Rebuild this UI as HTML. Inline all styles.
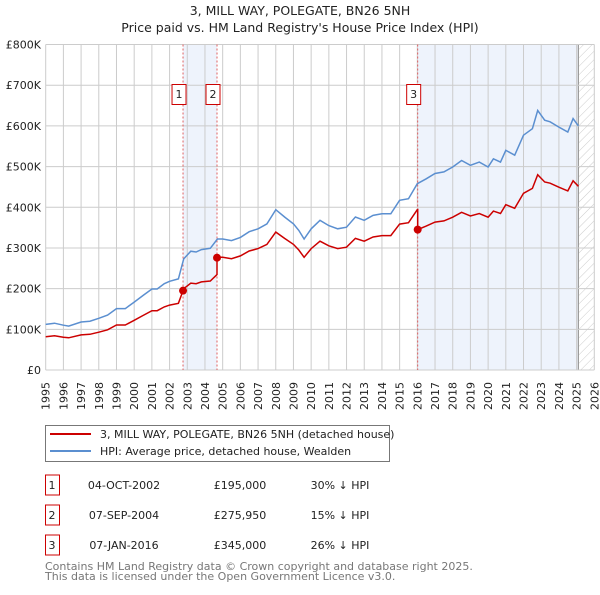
<!DOCTYPE html>
<html><head><meta charset="utf-8"><style>
body{margin:0;background:#fff;font-family:"Liberation Sans","DejaVu Sans",sans-serif;}
svg text{font-family:"DejaVu Sans","Liberation Sans",sans-serif;}
</style></head><body>
<svg id="chart" width="600" height="590" viewBox="0 0 600 590" xmlns="http://www.w3.org/2000/svg">
<defs><pattern id="hatch" width="6" height="6" patternUnits="userSpaceOnUse" patternTransform="rotate(45)"><line x1="0" y1="0" x2="0" y2="6" stroke="#ccc" stroke-width="1"/></pattern></defs>
<text x="300" y="15" text-anchor="middle" font-size="12.5" fill="#222">3, MILL WAY, POLEGATE, BN26 5NH</text>
<text x="300" y="32" text-anchor="middle" font-size="12.5" fill="#222">Price paid vs. HM Land Registry's House Price Index (HPI)</text>
<g id="plot"></g>
<g>
<rect x="45.5" y="425.5" width="344" height="36" fill="#fff" stroke="#777"/>
<line x1="50" y1="434" x2="91" y2="434" stroke="#cc0000" stroke-width="2"/>
<text x="100" y="438" font-size="11" fill="#222">3, MILL WAY, POLEGATE, BN26 5NH (detached house)</text>
<line x1="50" y1="451" x2="91" y2="451" stroke="#5b8fd0" stroke-width="2"/>
<text x="100" y="455" font-size="11" fill="#222">HPI: Average price, detached house, Wealden</text>
</g>
<g id="table" font-size="11" fill="#222"></g>
<text x="45" y="570" font-size="11" fill="#777">Contains HM Land Registry data © Crown copyright and database right 2025.</text>
<text x="45" y="580" font-size="11" fill="#777">This data is licensed under the Open Government Licence v3.0.</text>
</svg>
<script>
const hpiDates=[1995.0,1995.5,1996.0,1996.3,1997.0,1997.5,1998.0,1998.5,1999.0,1999.5,2000.0,2000.5,2001.0,2001.3,2001.7,2002.0,2002.5,2002.8,2003.2,2003.5,2003.8,2004.3,2004.7,2005.0,2005.5,2006.0,2006.5,2007.0,2007.5,2008.0,2008.5,2009.0,2009.3,2009.6,2010.0,2010.5,2011.0,2011.5,2012.0,2012.5,2013.0,2013.5,2014.0,2014.5,2015.0,2015.5,2016.0,2016.5,2017.0,2017.5,2018.0,2018.5,2019.0,2019.5,2020.0,2020.3,2020.7,2021.0,2021.5,2022.0,2022.5,2022.8,2023.2,2023.5,2024.0,2024.5,2024.8,2025.1];
const hpiValues=[112,115,110,108,118,120,127,135,151,151,167,183,199,199,212,218,224,273,292,290,296,299,322,322,318,326,340,347,359,394,376,359,343,322,347,368,355,347,351,376,368,380,384,384,417,421,458,470,483,487,499,515,503,511,499,519,511,540,528,577,593,638,614,610,597,585,618,600];
const saleDates=[2002.76,2004.68,2016.02];
const salePrices=[195,275.95,345];
const saleLabels=["1","2","3"];
const saleDateText=["04-OCT-2002","07-SEP-2004","07-JAN-2016"];
const salePriceText=["£195,000","£275,950","£345,000"];
const salePctText=["30% ↓ HPI","15% ↓ HPI","26% ↓ HPI"];
const yTicks=[0,100,200,300,400,500,600,700,800];
const yTickLabels=["£0","£100K","£200K","£300K","£400K","£500K","£600K","£700K","£800K"];
const xYears=[1995,1996,1997,1998,1999,2000,2001,2002,2003,2004,2005,2006,2007,2008,2009,2010,2011,2012,2013,2014,2015,2016,2017,2018,2019,2020,2021,2022,2023,2024,2025,2026];

const X0=45.7,X1=594.3,Y0=370,Y1=44.5;
const xs=y=>X0+(y-1995)/(2026-1995)*(X1-X0);
const ys=v=>Y0-v/800*(Y0-Y1);
const NS="http://www.w3.org/2000/svg";
const plot=document.getElementById('plot');
function mk(t,a,p){const e=document.createElementNS(NS,t);for(const k in a)e.setAttribute(k,a[k]);(p||plot).appendChild(e);return e;}
function interp(d){if(d<=hpiDates[0])return hpiValues[0];for(let i=1;i<hpiDates.length;i++){if(d<=hpiDates[i]){const t=(d-hpiDates[i-1])/(hpiDates[i]-hpiDates[i-1]);return hpiValues[i-1]+t*(hpiValues[i]-hpiValues[i-1]);}}return hpiValues[hpiValues.length-1];}

let bg=mk('rect',{x:X0,y:Y1,width:X1-X0,height:Y0-Y1,fill:'#fff'});


let b1=mk('rect',{x:xs(saleDates[0]),y:Y1,width:xs(saleDates[1])-xs(saleDates[0]),height:Y0-Y1,fill:'#eef3fc'});


let b2=mk('rect',{x:xs(saleDates[2]),y:Y1,width:xs(2025.1)-xs(saleDates[2]),height:Y0-Y1,fill:'#eef3fc'});


let hz=mk('rect',{x:xs(2025.1),y:Y1,width:X1-xs(2025.1),height:Y0-Y1,fill:'url(#hatch)'});


mk('line',{x1:xs(2025.1),y1:Y1,x2:xs(2025.1),y2:Y0,stroke:'#999','stroke-width':1.2});

xYears.forEach(yr=>{
 const x=xs(yr);
 let g=mk('line',{x1:x,y1:Y1,x2:x,y2:Y0,stroke:'#ccc','stroke-width':1});
 
 
 const tx=x+4,ty=Y0+12;
 let t=mk('text',{x:tx,y:ty,'font-size':11,fill:'#222','text-anchor':'end',transform:'rotate(-90 '+tx.toFixed(1)+' '+ty+')'});
 
 
 t.textContent=yr;
});
yTicks.forEach((v,i)=>{
 const y=ys(v);
 let g=mk('line',{x1:X0,y1:y,x2:X1,y2:y,stroke:'#ccc','stroke-width':1});
 
 
 let t=mk('text',{x:41,y:y+4,'font-size':11,fill:'#222','text-anchor':'end'});
 
 
 t.textContent=yTickLabels[i];
});

saleDates.forEach((d,i)=>{
 const x=xs(d);
 let l=mk('line',{x1:x,y1:Y1,x2:x,y2:Y0,stroke:'#e06060','stroke-width':1,'stroke-dasharray':'2,2'});
 
 
 let r=mk('rect',{x:x-11,y:84.5,width:14,height:20,fill:'#fff',stroke:'#cc0000'});
 
 
 let t=mk('text',{x:x-4,y:98,'font-size':11,fill:'#222','text-anchor':'middle'});
 
 
 t.textContent=saleLabels[i];
});

let dh=hpiDates.map((d,i)=>(i?'L':'M')+xs(d).toFixed(1)+','+ys(hpiValues[i]).toFixed(1)).join('');
let hl=mk('path',{d:dh,fill:'none',stroke:'#5b8fd0','stroke-width':1.5});



const ratios=saleDates.map((d,i)=>salePrices[i]/interp(d));
let pts=[];
hpiDates.forEach((d,i)=>{
 saleDates.forEach((sd,k)=>{ if(i>0 && hpiDates[i-1]<sd && d>=sd){ pts.push([sd,k>0?interp(sd)*ratios[k-1]:salePrices[k]]); pts.push([sd,salePrices[k]]);} });
 let k=0; for(let j=0;j<saleDates.length;j++) if(d>=saleDates[j]) k=j;
 pts.push([d,hpiValues[i]*ratios[k]]);
});
let dp=pts.map((p,i)=>(i?'L':'M')+xs(p[0]).toFixed(1)+','+ys(p[1]).toFixed(1)).join('');
let pl=mk('path',{d:dp,fill:'none',stroke:'#cc0000','stroke-width':1.5});


saleDates.forEach((d,i)=>{
 let c=mk('circle',{cx:xs(d),cy:ys(salePrices[i]),r:4,fill:'#cc0000'});
 
 
});

const tb=document.getElementById('table');
saleDates.forEach((d,i)=>{
 const y=485+i*30;
 let r=mk('rect',{x:45.5,y:y-10,width:14,height:20,fill:'#fff',stroke:'#cc0000'},tb);
 
 
 const cells=[[52,saleLabels[i],'table-row-number'],[124,saleDateText[i],'table-row-date'],[240,salePriceText[i],'table-row-price'],[340,salePctText[i],'table-row-hpi-diff']];
 cells.forEach(c=>{
  let t=mk('text',{x:c[0],y:y+4,'text-anchor':'middle','font-size':11,fill:'#222'},tb);
  
  
  t.textContent=c[1];
 });
});
</script>
</body></html>
